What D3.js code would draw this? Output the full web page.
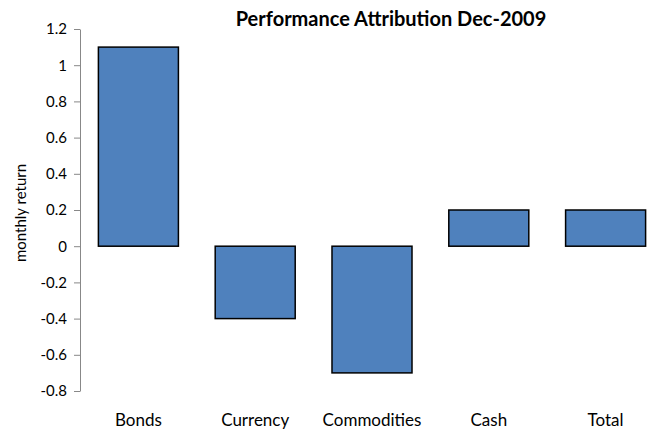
<!DOCTYPE html>
<html>
<head>
<meta charset="utf-8">
<script src="https://cdn.jsdelivr.net/npm/d3@7"></script>
<style>
    body { margin: 0; background: #fff; }
    text { font-family: Lato, "Open Sans", sans-serif; fill: #000; }
</style>
</head>
<body>
<script>
// chart data
const categories = ['Bonds', 'Currency', 'Commodities', 'Cash', 'Total'];
const values = [1.1, -0.4, -0.7, 0.2, 0.2];
const yTicks = [-0.8, -0.6, -0.4, -0.2, 0, 0.2, 0.4, 0.6, 0.8, 1, 1.2];

// svg dimensions
const w = 649
const h = 429

const svg = d3.select('body')
    .append('svg')
    .attr('width', w)
    .attr('height', h);

const x = d3.scaleBand()
    .domain(categories)
    .range([80, 664])
    .paddingInner(0.315)
    .paddingOuter(0.1575);

const y = d3.scaleLinear()
    .domain([-0.8, 1.2])
    .range([391, 29]);

// y axis, plain hyphen for negatives like the original
const yAxis = svg.append('g')
    .attr('transform', 'translate(80,0)')
    .call(d3.axisLeft(y).tickValues(yTicks).tickSize(6).tickSizeOuter(0).tickPadding(7)
        .tickFormat(d => String(+d.toFixed(1))));
yAxis.select('.domain').attr('stroke', '#888');
yAxis.selectAll('.tick line').attr('stroke', '#888');
yAxis.selectAll('.tick text')
    .style('font-family', 'Lato, "Open Sans", sans-serif')
    .style('font-size', '15px')
    .attr('fill', '#000');

// bars
svg.selectAll('rect.bar')
    .data(values)
    .enter()
    .append('rect')
    .attr('class', 'bar')
    .attr('x', (d, i) => x(categories[i]))
    .attr('y', d => y(Math.max(0, d)))
    .attr('width', x.bandwidth())
    .attr('height', d => Math.abs(y(d) - y(0)))
    .attr('fill', '#4f81bd')
    .attr('stroke', '#000')
    .attr('stroke-width', 1.5);

// category labels
svg.selectAll('text.cat')
    .data(categories)
    .enter()
    .append('text')
    .attr('class', 'cat')
    .attr('x', d => x(d) + x.bandwidth() / 2)
    .attr('y', 426)
    .attr('text-anchor', 'middle')
    .style('font-size', '17px')
    .text(d => d);

// title
svg.append('text')
    .attr('x', 391)
    .attr('y', 26)
    .attr('text-anchor', 'middle')
    .style('font-size', '20px')
    .style('font-weight', 'bold')
    .text('Performance Attribution Dec-2009');

// y label
svg.append('text')
    .attr('transform', 'translate(26,213) rotate(-90)')
    .attr('text-anchor', 'middle')
    .style('font-size', '15px')
    .text('monthly return');
</script>
</body>
</html>
